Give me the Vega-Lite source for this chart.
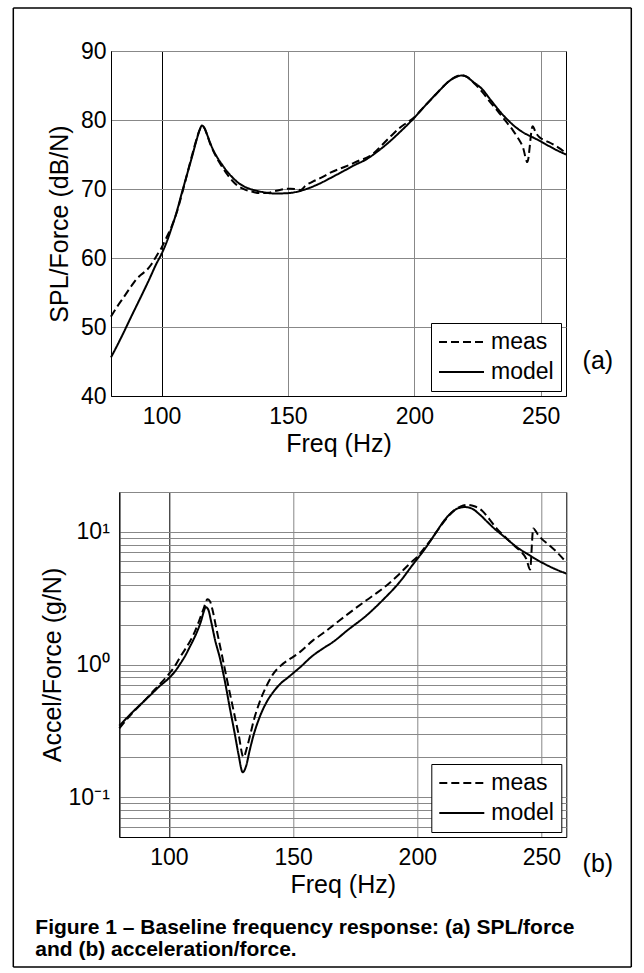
{
  "$schema": "https://vega.github.io/schema/vega-lite/v6.json",
  "background": "white",
  "padding": {"left": 12, "top": 6, "right": 12, "bottom": 6},
  "datasets": {
    "spl": [
      {"f":80,"v":51.5,"s":"meas"},{"f":82,"v":52.7,"s":"meas"},{"f":85,"v":54.3,"s":"meas"},{"f":88,"v":55.9,"s":"meas"},{"f":90,"v":56.9,"s":"meas"},{"f":92,"v":57.6,"s":"meas"},{"f":94,"v":58.2,"s":"meas"},{"f":96,"v":59.1,"s":"meas"},{"f":98,"v":60.3,"s":"meas"},{"f":100,"v":61.5,"s":"meas"},{"f":102,"v":63.0,"s":"meas"},{"f":104,"v":64.6,"s":"meas"},{"f":106,"v":66.6,"s":"meas"},{"f":108,"v":69.2,"s":"meas"},{"f":110,"v":72.0,"s":"meas"},{"f":112,"v":74.8,"s":"meas"},{"f":114,"v":77.4,"s":"meas"},{"f":115,"v":78.5,"s":"meas"},{"f":116,"v":79.1,"s":"meas"},{"f":117,"v":78.8,"s":"meas"},{"f":118,"v":77.9,"s":"meas"},{"f":119,"v":76.8,"s":"meas"},{"f":120,"v":75.9,"s":"meas"},{"f":122,"v":74.4,"s":"meas"},{"f":124,"v":73.2,"s":"meas"},{"f":126,"v":72.1,"s":"meas"},{"f":128,"v":71.2,"s":"meas"},{"f":130,"v":70.5,"s":"meas"},{"f":133,"v":69.9,"s":"meas"},{"f":136,"v":69.6,"s":"meas"},{"f":139,"v":69.4,"s":"meas"},{"f":142,"v":69.45,"s":"meas"},{"f":145,"v":69.7,"s":"meas"},{"f":148,"v":69.95,"s":"meas"},{"f":151,"v":70.05,"s":"meas"},{"f":153,"v":70.0,"s":"meas"},{"f":155,"v":69.85,"s":"meas"},{"f":157,"v":70.5,"s":"meas"},{"f":160,"v":71.1,"s":"meas"},{"f":163,"v":71.6,"s":"meas"},{"f":167,"v":72.4,"s":"meas"},{"f":171,"v":73.0,"s":"meas"},{"f":175,"v":73.6,"s":"meas"},{"f":178,"v":74.1,"s":"meas"},{"f":181,"v":74.5,"s":"meas"},{"f":184,"v":75.2,"s":"meas"},{"f":187,"v":76.3,"s":"meas"},{"f":190,"v":77.4,"s":"meas"},{"f":194,"v":78.8,"s":"meas"},{"f":197,"v":79.6,"s":"meas"},{"f":200,"v":80.4,"s":"meas"},{"f":204,"v":82.0,"s":"meas"},{"f":207,"v":83.1,"s":"meas"},{"f":210,"v":84.3,"s":"meas"},{"f":213,"v":85.4,"s":"meas"},{"f":216,"v":86.2,"s":"meas"},{"f":218.6,"v":86.5,"s":"meas"},{"f":221,"v":86.2,"s":"meas"},{"f":224,"v":85.2,"s":"meas"},{"f":227,"v":84.0,"s":"meas"},{"f":230,"v":82.6,"s":"meas"},{"f":233,"v":81.3,"s":"meas"},{"f":236,"v":79.9,"s":"meas"},{"f":239,"v":78.5,"s":"meas"},{"f":241,"v":77.4,"s":"meas"},{"f":243,"v":76.0,"s":"meas"},{"f":244.7,"v":73.9,"s":"meas"},{"f":246.8,"v":79.1,"s":"meas"},{"f":248,"v":78.2,"s":"meas"},{"f":249.5,"v":77.5,"s":"meas"},{"f":252,"v":77.0,"s":"meas"},{"f":254.7,"v":76.5,"s":"meas"},{"f":257,"v":76.0,"s":"meas"},{"f":260,"v":75.2,"s":"meas"},
      {"f":80,"v":45.6,"s":"model"},{"f":82,"v":47.0,"s":"model"},{"f":85,"v":49.2,"s":"model"},{"f":88,"v":51.5,"s":"model"},{"f":90,"v":53.0,"s":"model"},{"f":92,"v":54.5,"s":"model"},{"f":95,"v":56.8,"s":"model"},{"f":98,"v":59.2,"s":"model"},{"f":100,"v":60.6,"s":"model"},{"f":102,"v":62.3,"s":"model"},{"f":104,"v":64.4,"s":"model"},{"f":106,"v":66.7,"s":"model"},{"f":108,"v":69.4,"s":"model"},{"f":110,"v":72.0,"s":"model"},{"f":112,"v":74.6,"s":"model"},{"f":114,"v":77.3,"s":"model"},{"f":115,"v":78.5,"s":"model"},{"f":116,"v":79.2,"s":"model"},{"f":117,"v":78.8,"s":"model"},{"f":118,"v":77.9,"s":"model"},{"f":119,"v":76.9,"s":"model"},{"f":120,"v":76.0,"s":"model"},{"f":122,"v":74.6,"s":"model"},{"f":124,"v":73.5,"s":"model"},{"f":126,"v":72.5,"s":"model"},{"f":128,"v":71.7,"s":"model"},{"f":130,"v":71.0,"s":"model"},{"f":133,"v":70.3,"s":"model"},{"f":136,"v":69.9,"s":"model"},{"f":140,"v":69.55,"s":"model"},{"f":145,"v":69.35,"s":"model"},{"f":150,"v":69.4,"s":"model"},{"f":154.7,"v":69.7,"s":"model"},{"f":157.3,"v":70.0,"s":"model"},{"f":162,"v":70.7,"s":"model"},{"f":167.9,"v":71.8,"s":"model"},{"f":172,"v":72.6,"s":"model"},{"f":176,"v":73.4,"s":"model"},{"f":181,"v":74.3,"s":"model"},{"f":186,"v":75.6,"s":"model"},{"f":190.3,"v":76.9,"s":"model"},{"f":195,"v":78.5,"s":"model"},{"f":199.4,"v":80.1,"s":"model"},{"f":204.7,"v":82.25,"s":"model"},{"f":210,"v":84.3,"s":"model"},{"f":214,"v":85.7,"s":"model"},{"f":217,"v":86.3,"s":"model"},{"f":218.6,"v":86.45,"s":"model"},{"f":220.5,"v":86.3,"s":"model"},{"f":223,"v":85.6,"s":"model"},{"f":227,"v":84.4,"s":"model"},{"f":230,"v":83.0,"s":"model"},{"f":233.7,"v":81.3,"s":"model"},{"f":237,"v":80.0,"s":"model"},{"f":240.3,"v":78.9,"s":"model"},{"f":243.5,"v":78.1,"s":"model"},{"f":246.8,"v":77.5,"s":"model"},{"f":250,"v":76.9,"s":"model"},{"f":253.4,"v":76.2,"s":"model"},{"f":256.5,"v":75.6,"s":"model"},{"f":260,"v":75.0,"s":"model"}
    ],
    "acc": [
      {"f":80,"v":0.33,"s":"meas"},{"f":83,"v":0.385,"s":"meas"},{"f":86,"v":0.445,"s":"meas"},{"f":90,"v":0.53,"s":"meas"},{"f":93,"v":0.61,"s":"meas"},{"f":96,"v":0.7,"s":"meas"},{"f":100,"v":0.85,"s":"meas"},{"f":102.5,"v":0.98,"s":"meas"},{"f":104.5,"v":1.14,"s":"meas"},{"f":106.5,"v":1.3,"s":"meas"},{"f":108.5,"v":1.5,"s":"meas"},{"f":110,"v":1.7,"s":"meas"},{"f":112,"v":2.1,"s":"meas"},{"f":114,"v":2.65,"s":"meas"},{"f":115.5,"v":3.1,"s":"meas"},{"f":116.5,"v":3.0,"s":"meas"},{"f":117.5,"v":2.6,"s":"meas"},{"f":119,"v":1.9,"s":"meas"},{"f":120.5,"v":1.4,"s":"meas"},{"f":123.3,"v":0.78,"s":"meas"},{"f":126,"v":0.45,"s":"meas"},{"f":128,"v":0.3,"s":"meas"},{"f":130,"v":0.2,"s":"meas"},{"f":131.5,"v":0.24,"s":"meas"},{"f":133,"v":0.31,"s":"meas"},{"f":134,"v":0.37,"s":"meas"},{"f":136.5,"v":0.52,"s":"meas"},{"f":139.3,"v":0.69,"s":"meas"},{"f":142,"v":0.85,"s":"meas"},{"f":145,"v":0.98,"s":"meas"},{"f":148,"v":1.08,"s":"meas"},{"f":150,"v":1.14,"s":"meas"},{"f":152.7,"v":1.24,"s":"meas"},{"f":158,"v":1.52,"s":"meas"},{"f":162,"v":1.72,"s":"meas"},{"f":166.1,"v":1.97,"s":"meas"},{"f":172,"v":2.4,"s":"meas"},{"f":179.5,"v":3.05,"s":"meas"},{"f":184,"v":3.5,"s":"meas"},{"f":188,"v":4.0,"s":"meas"},{"f":192.9,"v":4.84,"s":"meas"},{"f":196.9,"v":5.75,"s":"meas"},{"f":200,"v":6.5,"s":"meas"},{"f":203,"v":7.6,"s":"meas"},{"f":206,"v":9.0,"s":"meas"},{"f":209,"v":10.8,"s":"meas"},{"f":212,"v":12.8,"s":"meas"},{"f":215,"v":14.6,"s":"meas"},{"f":217.5,"v":15.6,"s":"meas"},{"f":220,"v":16.0,"s":"meas"},{"f":223,"v":15.6,"s":"meas"},{"f":226,"v":14.5,"s":"meas"},{"f":229,"v":12.5,"s":"meas"},{"f":232,"v":10.6,"s":"meas"},{"f":235,"v":9.3,"s":"meas"},{"f":238,"v":8.2,"s":"meas"},{"f":241,"v":7.3,"s":"meas"},{"f":244,"v":6.2,"s":"meas"},{"f":245.4,"v":5.2,"s":"meas"},{"f":246.7,"v":10.6,"s":"meas"},{"f":248.5,"v":9.6,"s":"meas"},{"f":250,"v":8.9,"s":"meas"},{"f":253,"v":8.0,"s":"meas"},{"f":256,"v":7.1,"s":"meas"},{"f":260,"v":5.9,"s":"meas"},
      {"f":80,"v":0.345,"s":"model"},{"f":83,"v":0.395,"s":"model"},{"f":86,"v":0.45,"s":"model"},{"f":90,"v":0.53,"s":"model"},{"f":93,"v":0.6,"s":"model"},{"f":96,"v":0.68,"s":"model"},{"f":100,"v":0.79,"s":"model"},{"f":102.5,"v":0.89,"s":"model"},{"f":104.5,"v":1.01,"s":"model"},{"f":106.5,"v":1.16,"s":"model"},{"f":108.5,"v":1.37,"s":"model"},{"f":110,"v":1.56,"s":"model"},{"f":111.5,"v":1.8,"s":"model"},{"f":113,"v":2.15,"s":"model"},{"f":114,"v":2.5,"s":"model"},{"f":114.8,"v":2.71,"s":"model"},{"f":115.8,"v":2.6,"s":"model"},{"f":117,"v":2.1,"s":"model"},{"f":118.5,"v":1.55,"s":"model"},{"f":120.6,"v":1.1,"s":"model"},{"f":122.5,"v":0.75,"s":"model"},{"f":124.6,"v":0.46,"s":"model"},{"f":126.5,"v":0.3,"s":"model"},{"f":128,"v":0.21,"s":"model"},{"f":129.7,"v":0.154,"s":"model"},{"f":131,"v":0.17,"s":"model"},{"f":132.5,"v":0.225,"s":"model"},{"f":134,"v":0.29,"s":"model"},{"f":136.5,"v":0.4,"s":"model"},{"f":139.3,"v":0.52,"s":"model"},{"f":142,"v":0.62,"s":"model"},{"f":145,"v":0.72,"s":"model"},{"f":148,"v":0.8,"s":"model"},{"f":150,"v":0.86,"s":"model"},{"f":152.7,"v":0.95,"s":"model"},{"f":158,"v":1.17,"s":"model"},{"f":162,"v":1.32,"s":"model"},{"f":166.1,"v":1.48,"s":"model"},{"f":172,"v":1.82,"s":"model"},{"f":179.5,"v":2.34,"s":"model"},{"f":186,"v":3.05,"s":"model"},{"f":192.9,"v":4.19,"s":"model"},{"f":198.9,"v":5.9,"s":"model"},{"f":202,"v":7.0,"s":"model"},{"f":205,"v":8.4,"s":"model"},{"f":208,"v":10.2,"s":"model"},{"f":211,"v":12.3,"s":"model"},{"f":214,"v":14.1,"s":"model"},{"f":216.5,"v":15.1,"s":"model"},{"f":219,"v":15.4,"s":"model"},{"f":222,"v":15.0,"s":"model"},{"f":225,"v":13.6,"s":"model"},{"f":228,"v":12.0,"s":"model"},{"f":231,"v":10.6,"s":"model"},{"f":235,"v":9.2,"s":"model"},{"f":240,"v":7.7,"s":"model"},{"f":245,"v":6.7,"s":"model"},{"f":250,"v":5.9,"s":"model"},{"f":255,"v":5.3,"s":"model"},{"f":260,"v":4.85,"s":"model"}
    ]
  },
  "bounds": "flush",
  "spacing": 96,
  "resolve": {"scale": {"strokeDash": "independent"}, "legend": {"strokeDash": "independent"}},
  "vconcat": [
    {
      "width": 455,
      "height": 345,
      "layer": [
        {
          "data": {"name": "spl"},
          "mark": {"type": "line", "strokeWidth": 2, "color": "black", "interpolate": "monotone"},
          "encoding": {
            "x": {"field": "f", "type": "quantitative", "scale": {"domain": [80, 260], "nice": false, "zero": false},
              "axis": {"title": "Freq (Hz)", "values": [100, 150, 200, 250], "grid": true, "labelPadding": 9.5, "titlePadding": 2.5,
                "gridColor": {"condition": {"test": "datum.value === 100", "value": "black"}, "value": "#888888"}}},
            "y": {"field": "v", "type": "quantitative", "scale": {"domain": [40, 90], "nice": false, "zero": false},
              "axis": {"title": "SPL/Force (dB/N)", "values": [40, 50, 60, 70, 80, 90], "grid": true, "gridColor": "#888888", "labelPadding": 5, "titlePadding": 8}},
            "strokeDash": {"field": "s", "type": "nominal", "scale": {"domain": ["meas", "model"], "range": [[8, 4], [1, 0]]}, "legend": {"title": null}}
          }
        },
        {
          "data": {"values": [{"t": "(a)"}]},
          "mark": {"type": "text", "fontSize": 25, "font": "Liberation Sans", "color": "black", "baseline": "middle", "align": "center"},
          "encoding": {"x": {"datum": 272.6}, "y": {"datum": 45.07}, "text": {"field": "t"}}
        },
        {
          "data": {"values": [{"k": 1}]},
          "mark": {"type": "rule", "color": "black", "strokeWidth": 1.5},
          "encoding": {"x": {"datum": 41.35}, "y": {"datum": 96.23}, "y2": {"datum": -42.75}}
        },
        {
          "data": {"values": [{"k": 1}]},
          "mark": {"type": "rule", "color": "black", "strokeWidth": 1.5},
          "encoding": {"x": {"datum": 285.83}, "y": {"datum": 96.23}, "y2": {"datum": -42.75}}
        },
        {
          "data": {"values": [{"k": 1}]},
          "mark": {"type": "rule", "color": "black", "strokeWidth": 1.5},
          "encoding": {"x": {"datum": 41.35}, "x2": {"datum": 285.83}, "y": {"datum": 96.23}}
        },
        {
          "data": {"values": [{"k": 1}]},
          "mark": {"type": "rule", "color": "black", "strokeWidth": 1.5},
          "encoding": {"x": {"datum": 41.35}, "x2": {"datum": 285.83}, "y": {"datum": -42.75}}
        }
      ]
    },
    {
      "bounds": "flush",
      "spacing": 7.3,
      "resolve": {"scale": {"strokeDash": "independent"}, "legend": {"strokeDash": "independent"}},
      "hconcat": [
        {
          "width": 1,
          "height": 1,
          "data": {"values": [{"k": 1}]},
          "mark": {"type": "point", "opacity": 0},
          "encoding": {},
          "view": {"stroke": null}
        },
        {
          "width": 447,
          "height": 345,
          "title": {
            "text": ["Figure 1 – Baseline frequency response: (a) SPL/force", "and (b) acceleration/force."],
            "orient": "bottom", "anchor": "start", "frame": "group", "dx": -84, "offset": 20,
            "fontSize": 21, "fontWeight": "bold", "font": "Liberation Sans", "color": "black",
            "baseline": "top", "lineHeight": 22, "align": "left"
          },
          "layer": [
            {
              "data": {"name": "acc"},
              "mark": {"type": "line", "strokeWidth": 2, "color": "black", "interpolate": "monotone"},
              "encoding": {
                "x": {"field": "f", "type": "quantitative", "scale": {"domain": [80, 260], "nice": false, "zero": false},
                  "axis": {"title": "Freq (Hz)", "values": [100, 150, 200, 250], "grid": true, "labelPadding": 9.5, "titlePadding": 2.5,
                    "gridColor": {"condition": {"test": "datum.value === 100", "value": "black"}, "value": "#888888"}}},
                "y": {"field": "v", "type": "quantitative", "scale": {"type": "log", "domain": [0.05, 20], "nice": false},
                  "axis": {"title": "Accel/Force (g/N)",
                    "values": [0.05, 0.06, 0.07, 0.08, 0.09, 0.1, 0.2, 0.3, 0.4, 0.5, 0.6, 0.7, 0.8, 0.9, 1, 2, 3, 4, 5, 6, 7, 8, 9, 10, 20],
                    "labelExpr": "datum.value == 0.1 ? '10⁻¹' : datum.value == 1 ? '10⁰' : datum.value == 10 ? '10¹' : ''",
                    "grid": true, "gridColor": "#888888", "labelPadding": 10, "titlePadding": 3}},
                "strokeDash": {"field": "s", "type": "nominal", "scale": {"domain": ["meas", "model"], "range": [[8, 4], [1, 0]]}, "legend": {"title": null}}
              }
            },
            {
              "data": {"values": [{"t": "(b)"}]},
              "mark": {"type": "text", "fontSize": 25, "font": "Liberation Sans", "color": "black", "baseline": "middle", "align": "center"},
              "encoding": {"x": {"datum": 272.7}, "y": {"datum": 0.03134}, "text": {"field": "t"}}
            }
          ]
        }
      ]
    }
  ],
  "config": {
    "font": "Liberation Sans",
    "view": {"stroke": "black", "strokeWidth": 1},
    "axis": {
      "labelFont": "Liberation Sans", "titleFont": "Liberation Sans",
      "labelFontSize": 23, "titleFontSize": 25, "titleFontWeight": "normal",
      "labelColor": "black", "titleColor": "black",
      "domainColor": "black", "domainWidth": 1, "gridWidth": 1, "gridOpacity": 1,
      "ticks": false, "tickSize": 0, "labelFlush": false, "labelOverlap": false, "labelBound": false
    },
    "legend": {
      "orient": "bottom-right", "offset": 5,
      "strokeColor": "black", "fillColor": "white", "padding": 7,
      "labelFont": "Liberation Sans", "labelFontSize": 23, "labelColor": "black", "labelOffset": 6,
      "symbolType": "stroke", "symbolSize": 2025, "symbolStrokeWidth": 2, "symbolStrokeColor": "black",
      "clipHeight": 24, "rowPadding": 6
    }
  }
}
